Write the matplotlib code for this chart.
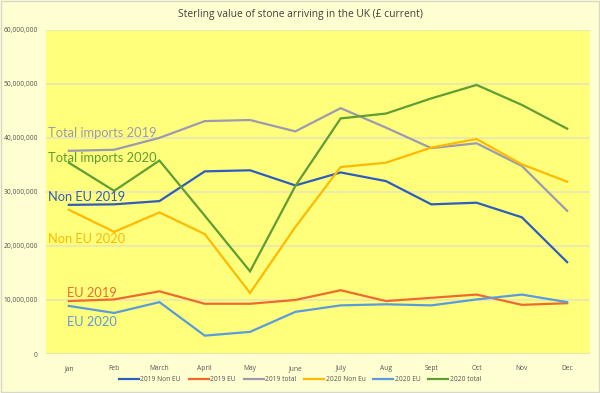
import matplotlib.pyplot as plt
from matplotlib.ticker import FuncFormatter

months = ["Jan", "Feb", "March", "April", "May", "June",
          "July", "Aug", "Sept", "Oct", "Nov", "Dec"]

# values in millions of pounds
non_eu_2019 = [27.6, 27.7, 28.3, 33.8, 34.0, 31.2, 33.6, 32.0, 27.7, 28.0, 25.3, 17.0]
eu_2019 = [9.8, 10.1, 11.6, 9.3, 9.3, 10.0, 11.8, 9.8, 10.4, 11.0, 9.1, 9.4]
total_2019 = [37.6, 37.8, 40.0, 43.1, 43.3, 41.2, 45.5, 41.9, 38.1, 39.0, 34.8, 26.5]
non_eu_2020 = [26.7, 22.6, 26.2, 22.2, 11.3, 23.5, 34.6, 35.4, 38.2, 39.8, 35.1, 31.9]
eu_2020 = [8.9, 7.6, 9.6, 3.4, 4.1, 7.8, 9.0, 9.2, 9.0, 10.1, 11.0, 9.6]
total_2020 = [35.4, 30.2, 35.8, 25.6, 15.3, 31.1, 43.6, 44.5, 47.3, 49.8, 46.1, 41.7]

series = [
    ("2019 Non EU", non_eu_2019, "#2F5DBF"),
    ("2019 EU", eu_2019, "#EE6B2F"),
    ("2019 total", total_2019, "#9C9AB0"),
    ("2020 Non Eu", non_eu_2020, "#FFBA00"),
    ("2020 EU", eu_2020, "#5A9BDC"),
    ("2020 total", total_2020, "#5E9E33"),
]

# text labels drawn inside the plot: (text, x position, baseline value, colour)
labels = [
    ("Total imports 2019", -0.45, 40.2, "#9C9AB0"),
    ("Total imports 2020", -0.45, 35.6, "#5E9E33"),
    ("Non EU 2019", -0.45, 28.3, "#2F5DBF"),
    ("Non EU 2020", -0.45, 20.6, "#FFBA00"),
    ("EU 2019", -0.05, 10.6, "#EE6B2F"),
    ("EU 2020", -0.05, 5.2, "#5A9BDC"),
]

plt.rcParams["font.family"] = ["Open Sans", "DejaVu Sans"]

fig = plt.figure(figsize=(6, 3.93), dpi=100, facecolor="#FFFFD2")
ax = fig.add_axes([0.077, 0.0992, 0.906, 0.825])
ax.set_facecolor("#FFFF7C")

x = list(range(len(months)))
for name, vals, color in series:
    ax.plot(x, [v * 1e6 for v in vals], color=color, lw=1.6, label=name,
            solid_joinstyle="miter")

for text, lx, ly, color in labels:
    ax.text(lx, ly * 1e6, text, color=color, fontsize=9.3,
            ha="left", va="baseline", family=["Lato", "DejaVu Sans"])

ax.set_xlim(-0.5, 11.5)
ax.set_ylim(0, 60e6)
ax.set_yticks([i * 10e6 for i in range(7)])
ax.yaxis.set_major_formatter(FuncFormatter(lambda v, p: f"{int(v):,}"))
ax.set_xticks(x)
ax.set_xticklabels(months)
ax.tick_params(axis="both", length=0, labelsize=4.8, labelcolor="#555555")
ax.tick_params(axis="x", pad=8)
ax.tick_params(axis="y", pad=6)
ax.grid(axis="y", color="#E6E6B8", lw=1.2)
ax.set_axisbelow(True)
for s in ax.spines.values():
    s.set_visible(False)
ax.axhline(0, color="#E0E0B0", lw=1.4, zorder=0.5)

fig.text(0.5, 0.962, "Sterling value of stone arriving in the UK (£ current)",
         ha="center", va="center", fontsize=7.4, color="#404040")

fig.legend(loc="lower center", bbox_to_anchor=(0.5, 0.01), ncol=6,
           frameon=False, fontsize=4.8, handlelength=3.0, handletextpad=0.2,
           columnspacing=1.2, labelcolor="#555555")

fig.patches.append(plt.Rectangle((0.002, 0.003), 0.996, 0.994,
                                 transform=fig.transFigure, fill=False,
                                 edgecolor="#D8D8C8", lw=1))

fig.savefig("out.png", dpi=100, facecolor=fig.get_facecolor())
